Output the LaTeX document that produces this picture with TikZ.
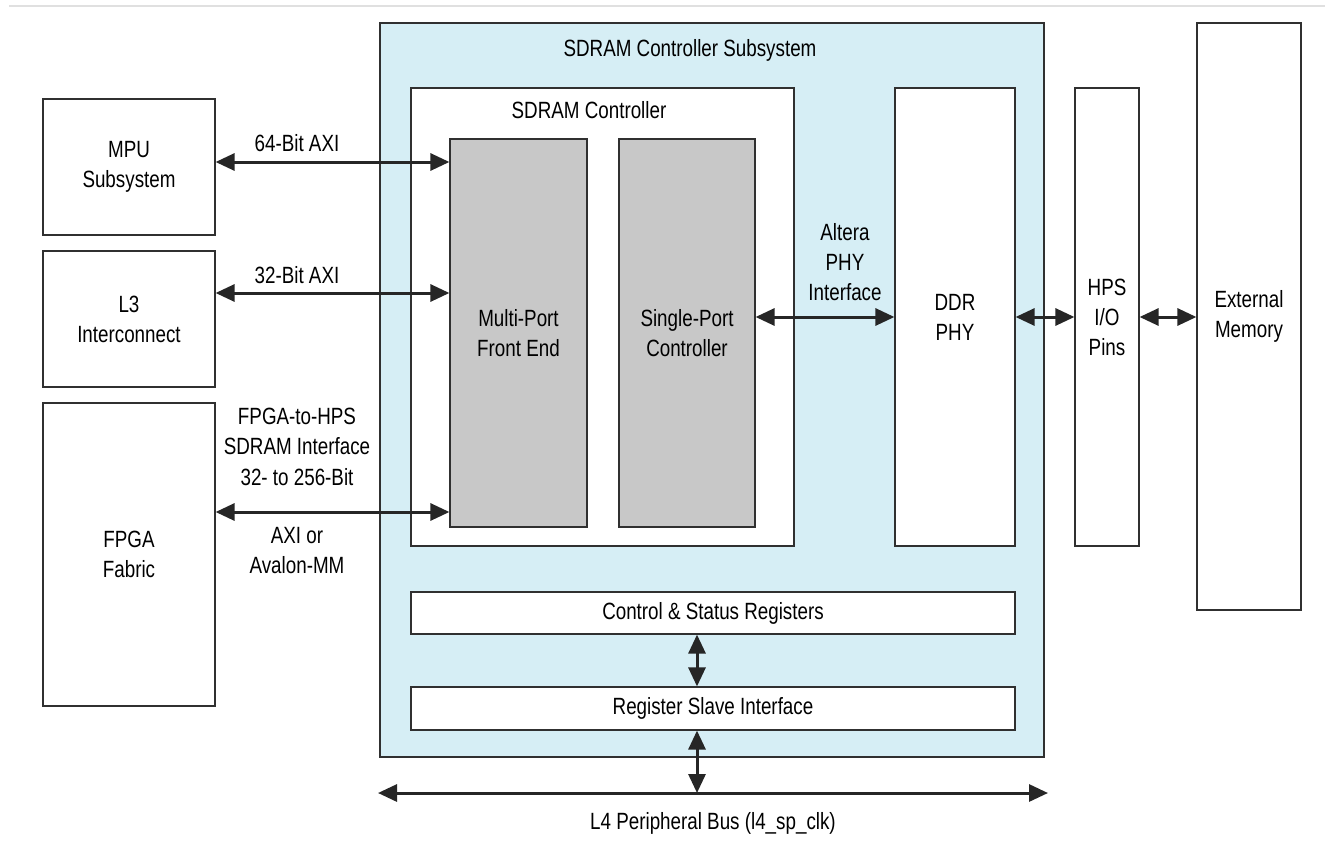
\documentclass[tikz,border=0pt]{standalone}
\usepackage{fontspec}
\setmainfont{Liberation Sans}[FakeStretch=0.8]
\usetikzlibrary{arrows.meta}
\definecolor{subblue}{HTML}{D6EEF5}
\definecolor{blockgray}{HTML}{C8C8C8}
\definecolor{edge}{HTML}{303030}
\tikzset{
  box/.style={draw=edge, line width=1.2pt, fill=white, inner sep=0pt, align=center,
    font=\fontsize{23.5}{30}\selectfont},
  graybox/.style={box, fill=blockgray},
  lbl/.style={inner sep=0pt, align=center, font=\fontsize{23.5}{30}\selectfont},
  bi/.style={line width=3pt, draw=black!85, {Triangle[length=19pt,width=17pt]}-{Triangle[length=19pt,width=17pt]}, shorten <=0pt, shorten >=0pt}
}
\begin{document}
\begin{tikzpicture}[x=1pt,y=-1pt]
\useasboundingbox (0,0) rectangle (1335,851);
\fill[white] (0,0) rectangle (1335,851);
\draw[line width=2.5pt, draw=black!12] (9,6) -- (1325,6);

% subsystem
\node[box, fill=subblue, minimum width=664, minimum height=734] (sub) at (712,390) {};
\node[lbl] (subl) at (690,50) {SDRAM Controller Subsystem};
\node[box, minimum width=383, minimum height=458] (ctrl) at (602.5,317) {};
\node[lbl] (ctrll) at (589,110) {SDRAM Controller};
\node[graybox, minimum width=137, minimum height=388] (mpf) at (518.5,333) {Multi-Port\\Front End};
\node[graybox, minimum width=136, minimum height=388] (spc) at (687,333) {Single-Port\\Controller};
\node[box, minimum width=120, minimum height=458] (ddr) at (955,317) {DDR\\PHY};
\node[box, minimum width=604, minimum height=42] (csr) at (713,613) {Control \& Status Registers};
\node[box, minimum width=604, minimum height=43] (rsi) at (713,708.5) {Register Slave Interface};

% outside blocks
\node[box, minimum width=64, minimum height=458] (hps) at (1107,317) {HPS\\I/O\\Pins};
\node[box, minimum width=104, minimum height=587] (ext) at (1249,316.5) {External\\Memory};
\node[box, minimum width=172, minimum height=136] (mpu) at (129,167) {MPU\\Subsystem};
\node[box, minimum width=172, minimum height=136] (l3) at (129,319) {L3\\Interconnect};
\node[box, minimum width=172, minimum height=303] (fpga) at (129,554.5) {FPGA\\Fabric};

% arrow rows
\coordinate (r64) at (300,162);
\coordinate (r32) at (300,293);
\coordinate (rfp) at (300,512);
\coordinate (rphy) at (900,317);
\coordinate (busL) at (378,793);
\coordinate (busR) at (1048,793);
\coordinate (busM) at (697,793);
\coordinate (colM) at (697,700);

\draw[bi] (mpu.east |- r64) -- (mpf.west |- r64);
\draw[bi] (l3.east |- r32) -- (mpf.west |- r32);
\draw[bi] (fpga.east |- rfp) -- (mpf.west |- rfp);
\draw[bi] (spc.east |- rphy) -- (ddr.west |- rphy);
\draw[bi] (ddr.east |- rphy) -- (hps.west |- rphy);
\draw[bi] (hps.east |- rphy) -- (ext.west |- rphy);
\draw[bi] (csr.south -| colM) -- (rsi.north -| colM);
\draw[bi] (rsi.south -| colM) -- (busM);
\draw[bi] (busL) -- (busR);

% labels
\node[lbl] (l64) at (297,143) {64-Bit AXI};
\node[lbl] (l32) at (297,275) {32-Bit AXI};
\node[lbl] (lf1) at (297,416) {FPGA-to-HPS};
\node[lbl] (lf2) at (297,446) {SDRAM Interface};
\node[lbl] (lf3) at (297,477) {32- to 256-Bit};
\node[lbl] (lf4) at (297,551) {AXI or\\Avalon-MM};
\node[lbl] (lphy) at (845,262) {Altera\\PHY\\Interface};
\node[lbl] (lbus) at (713,823) {L4 Peripheral Bus (l4\_sp\_clk)};
\end{tikzpicture}
\end{document}
